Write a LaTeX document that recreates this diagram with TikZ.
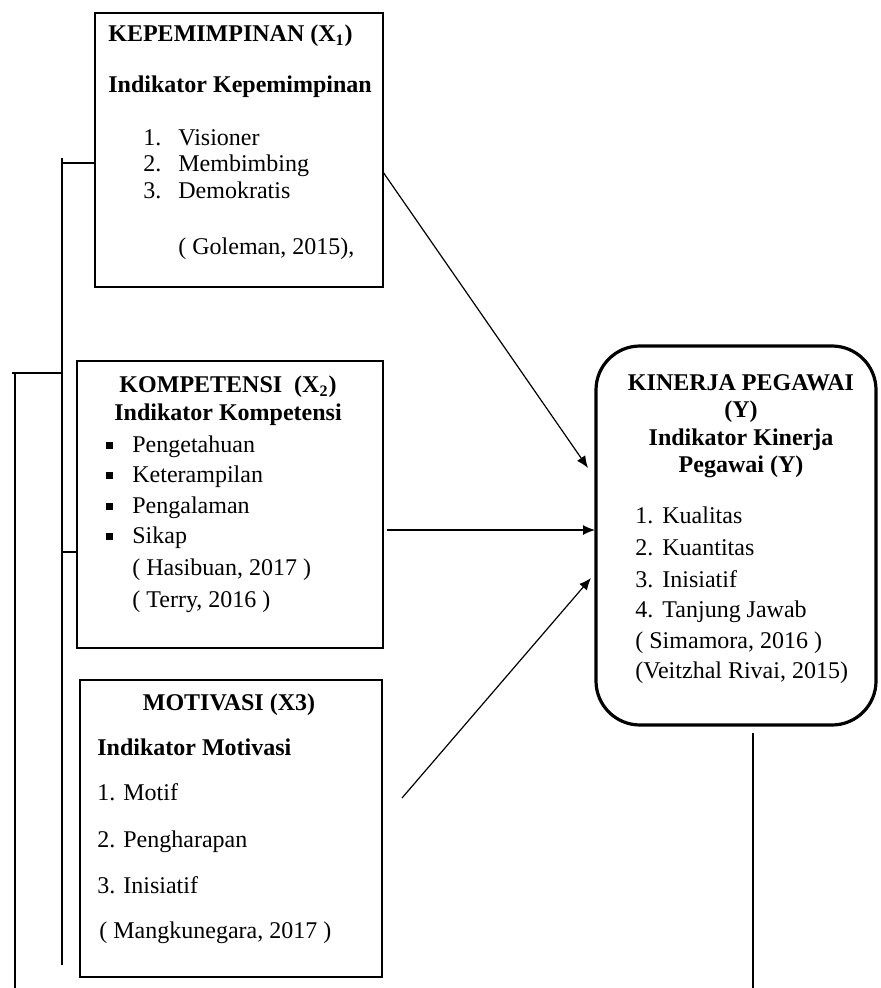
\documentclass[tikz,border=0pt]{standalone}
\usepackage{fontspec}
\setmainfont{Liberation Serif}
\usetikzlibrary{arrows.meta}
\tikzset{
  kotak/.style={draw, line width=0.8pt, inner sep=0pt},
  kotakY/.style={draw, line width=1.6pt, rounded corners=22pt, inner sep=0pt},
  teks/.style={anchor=base west, inner sep=0pt, font=\fontsize{12pt}{14pt}\selectfont},
  judul/.style={teks, font=\fontsize{12pt}{14pt}\selectfont\bfseries},
  garis/.style={line width=0.6pt},
  panah/.style={line width=0.6pt, -{Latex[length=6pt,width=5pt]}},
}
\newcommand{\kotakkecil}{\rule[1.5pt]{3.5pt}{3.5pt}}

\begin{document}
\begin{tikzpicture}[x=0.5pt, y=-0.5pt]
\useasboundingbox (0,0) rectangle (880,988);

% kotak
\node[kotak, minimum width=144pt, minimum height=137pt] (kep) at (239,150) {};
\node[kotak, minimum width=153pt, minimum height=143.5pt] (komp) at (230,504.5) {};
\node[kotak, minimum width=151pt, minimum height=148.5pt] (mot) at (231,828.5) {};
\node[kotakY, minimum width=140pt, minimum height=189.5pt] (kin) at (736,535.5) {};

% X1
\node[judul] (kepA) at (108,42) {KEPEMIMPINAN (X\textsubscript{1})};
\node[judul] (kepB) at (108,93) {Indikator Kepemimpinan};
\node[teks] (kep1n) at (143,146) {1.};
\node[teks] (kep1) at (178,146) {Visioner};
\node[teks] (kep2n) at (143,172) {2.};
\node[teks] (kep2) at (178,172) {Membimbing};
\node[teks] (kep3n) at (143,199) {3.};
\node[teks] (kep3) at (178,199) {Demokratis};
\node[teks] (kepR) at (178,255) {( Goleman, 2015),};

% X2
\node[judul, anchor=base] (kompA) at (228,393) {KOMPETENSI~~(X\textsubscript{2})};
\node[judul, anchor=base] (kompB) at (228,420) {Indikator Kompetensi};
\node[teks] (komp1b) at (106,452) {\kotakkecil};
\node[teks] (komp1) at (132,452) {Pengetahuan};
\node[teks] (komp2b) at (106,482) {\kotakkecil};
\node[teks] (komp2) at (132,482) {Keterampilan};
\node[teks] (komp3b) at (106,513) {\kotakkecil};
\node[teks] (komp3) at (132,513) {Pengalaman};
\node[teks] (komp4b) at (106,543) {\kotakkecil};
\node[teks] (komp4) at (132,543) {Sikap};
\node[teks] (kompR1) at (132,575) {( Hasibuan, 2017 )};
\node[teks] (kompR2) at (132,607) {( Terry, 2016 )};

% X3
\node[judul, anchor=base] (motA) at (229,710) {MOTIVASI (X3)};
\node[judul] (motB) at (97,755) {Indikator Motivasi};
\node[teks] (mot1) at (97,800) {1. Motif};
\node[teks] (mot2) at (97,847) {2. Pengharapan};
\node[teks] (mot3) at (97,893) {3. Inisiatif};
\node[teks] (motR) at (99,938) {( Mangkunegara, 2017 )};

% Y
\node[judul, anchor=base] (kinA) at (741,390) {KINERJA PEGAWAI};
\node[judul, anchor=base] (kinB) at (741,417) {(Y)};
\node[judul, anchor=base] (kinC) at (741,445) {Indikator Kinerja};
\node[judul, anchor=base] (kinD) at (741,472) {Pegawai (Y)};
\node[teks] (kin1n) at (635,523) {1.};
\node[teks] (kin1) at (662,523) {Kualitas};
\node[teks] (kin2n) at (635,555) {2.};
\node[teks] (kin2) at (662,555) {Kuantitas};
\node[teks] (kin3n) at (635,587) {3.};
\node[teks] (kin3) at (662,587) {Inisiatif};
\node[teks] (kin4n) at (635,617) {4.};
\node[teks] (kin4) at (662,617) {Tanjung Jawab};
\node[teks] (kinR1) at (635,648) {( Simamora, 2016 )};
\node[teks] (kinR2) at (635,678) {(Veitzhal Rivai, 2015)};

% panah ke Y
\coordinate (p1a) at (383,172);
\coordinate (p1b) at (588,468);
\coordinate (p2a) at (387,530);
\coordinate (p2b) at (595,530);
\coordinate (p3a) at (402,798);
\coordinate (p3b) at (591,578);
\draw[panah] (p1a) -- (p1b);
\draw[panah] (p2a) -- (p2b);
\draw[panah] (p3a) -- (p3b);

% garis kiri
\coordinate (g1a) at (62,158);
\coordinate (g1b) at (62,965);
\coordinate (g1k) at (62,163);
\coordinate (g1m) at (62,552);
\coordinate (g1t) at (62,373);
\coordinate (g2a) at (12,373);
\coordinate (g2b) at (15,988);
\draw[garis] (g1a) -- (g1b);
\draw[garis] (g1k) -- (kep.west |- g1k);
\draw[garis] (g1m) -- (komp.west |- g1m);
\draw[garis] (g2a) -- (g1t);
\draw[garis] (g2a -| g2b) -- (g2b);

% garis bawah Y
\coordinate (g3a) at (753,733);
\coordinate (g3b) at (753,988);
\draw[garis] (g3a) -- (g3b);
\end{tikzpicture}
\end{document}
